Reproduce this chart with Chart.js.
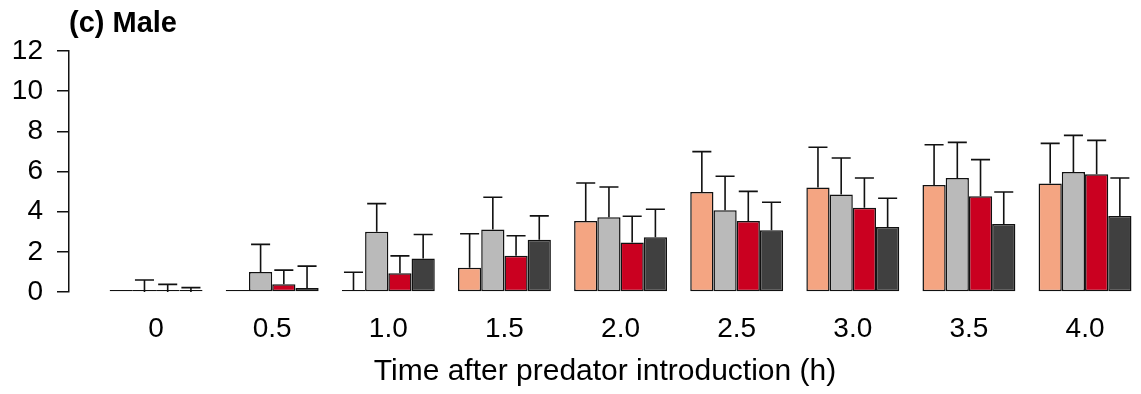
<!DOCTYPE html>
<html>
<head>
<meta charset="utf-8">
<script src="https://cdn.jsdelivr.net/npm/chart.js@4.4.0/dist/chart.umd.min.js"></script>
<style>
  html, body { margin: 0; padding: 0; background: #fff; }
</style>
</head>
<body>
<canvas id="chart" width="1141" height="394"></canvas>
<script>
// time points (h) and their printed labels
const times = [0, 0.5, 1.0, 1.5, 2.0, 2.5, 3.0, 3.5, 4.0]
const timeLabels = ['0', '0.5', '1.0', '1.5', '2.0', '2.5', '3.0', '3.5', '4.0']
const yTicks = [0, 2, 4, 6, 8, 10, 12]

// means and upper error (SE) for each of the four groups
const lightMean = [0, 0.05, 0.05, 1.21, 3.53, 4.98, 5.2, 5.33, 5.4]
const lightErr  = [0, 0, 0.93, 1.69, 1.9, 2.01, 2.01, 2.0, 2.0]
const greyMean  = [0, 1.0, 3.0, 3.11, 3.72, 4.07, 4.85, 5.68, 5.97]
const greyErr   = [0.6, 1.37, 1.4, 1.61, 1.51, 1.69, 1.82, 1.77, 1.83]
const redMean   = [0, 0.38, 0.93, 1.8, 2.47, 3.53, 4.2, 4.77, 5.86]
const redErr    = [0.38, 0.71, 0.87, 1.0, 1.3, 1.48, 1.48, 1.82, 1.69]
const darkMean  = [0, 0.2, 1.67, 2.6, 2.73, 3.08, 3.24, 3.38, 3.79]
const darkErr   = [0.22, 1.09, 1.19, 1.19, 1.39, 1.39, 1.43, 1.6, 1.89]

const family = '"Liberation Sans", Arial, sans-serif'
const tickFont = { family, size: 28 }
const titleFont = { family, size: 30 }

const series = [
    { mean: lightMean, err: lightErr, color: '#F4A582' },
    { mean: greyMean, err: greyErr, color: '#BABABA' },
    { mean: redMean, err: redErr, color: '#CA0020' },
    { mean: darkMean, err: darkErr, color: '#404040' }
]

const errorBars = {
    id: 'errorBars',
    afterDatasetsDraw(chart) {
        const { ctx } = chart
        const y = chart.scales.y
        ctx.save()
        ctx.strokeStyle = '#111'
        ctx.lineWidth = 1.6
        chart.data.datasets.forEach((ds, i) => {
            const meta = chart.getDatasetMeta(i)
            meta.data.forEach((bar, j) => {
                const err = ds.errors[j]
                if (!err) return
                const v = ds.data[j].y
                const from = y.getPixelForValue(v)
                const to = y.getPixelForValue(v + err)
                const half = bar.width * 0.41
                ctx.beginPath()
                ctx.moveTo(bar.x, from)
                ctx.lineTo(bar.x, to)
                ctx.moveTo(bar.x - half, to)
                ctx.lineTo(bar.x + half, to)
                ctx.stroke()
            })
        })
        ctx.restore()
    }
}

const panelTitle = {
    id: 'panelTitle',
    afterDraw(chart) {
        const { ctx, chartArea } = chart
        ctx.save()
        ctx.font = `bold 29px ${family}`
        ctx.fillStyle = '#000'
        ctx.textBaseline = 'alphabetic'
        ctx.fillText('(c) Male', chartArea.left, 32)
        ctx.restore()
    }
}

new Chart(document.getElementById('chart'), {
    type: 'bar',
    data: {
        datasets: series.map(s => ({
            data: times.map((t, i) => ({ x: t, y: s.mean[i] })),
            errors: s.err,
            backgroundColor: s.color,
            borderColor: '#111',
            borderWidth: 1.5,
            borderSkipped: false,
            minBarLength: 2,
            categoryPercentage: 0.8,
            barPercentage: 1.0
        }))
    },
    options: {
        responsive: false,
        animation: false,
        layout: { padding: { top: 51, left: 0, right: 0, bottom: 0 } },
        plugins: {
            legend: { display: false },
            tooltip: { enabled: false }
        },
        scales: {
            x: {
                type: 'linear',
                offset: false,
                min: -0.375,
                max: 4.241,
                afterBuildTicks: s => { s.ticks = times.map(v => ({ value: v })) },
                afterFit: s => { s.height = 102 },
                border: { display: false },
                grid: { display: false, drawTicks: false, offset: false },
                ticks: {
                    autoSkip: false,
                    maxRotation: 0,
                    padding: 20,
                    color: '#000',
                    font: tickFont,
                    callback: (v, i) => timeLabels[i]
                },
                title: {
                    display: true,
                    text: 'Time after predator introduction (h)',
                    color: '#000',
                    font: titleFont,
                    padding: { top: 0, bottom: 4 }
                }
            },
            y: {
                min: 0,
                max: 12,
                afterBuildTicks: s => { s.ticks = yTicks.map(v => ({ value: v })) },
                afterFit: s => { s.width = 69 },
                border: { display: true, color: '#111', width: 1.5 },
                grid: { drawOnChartArea: false, drawTicks: true, tickLength: 12, color: '#111', lineWidth: 1.5 },
                ticks: { padding: 14, color: '#000', font: tickFont }
            }
        }
    },
    plugins: [errorBars, panelTitle]
})
</script>
</body>
</html>
